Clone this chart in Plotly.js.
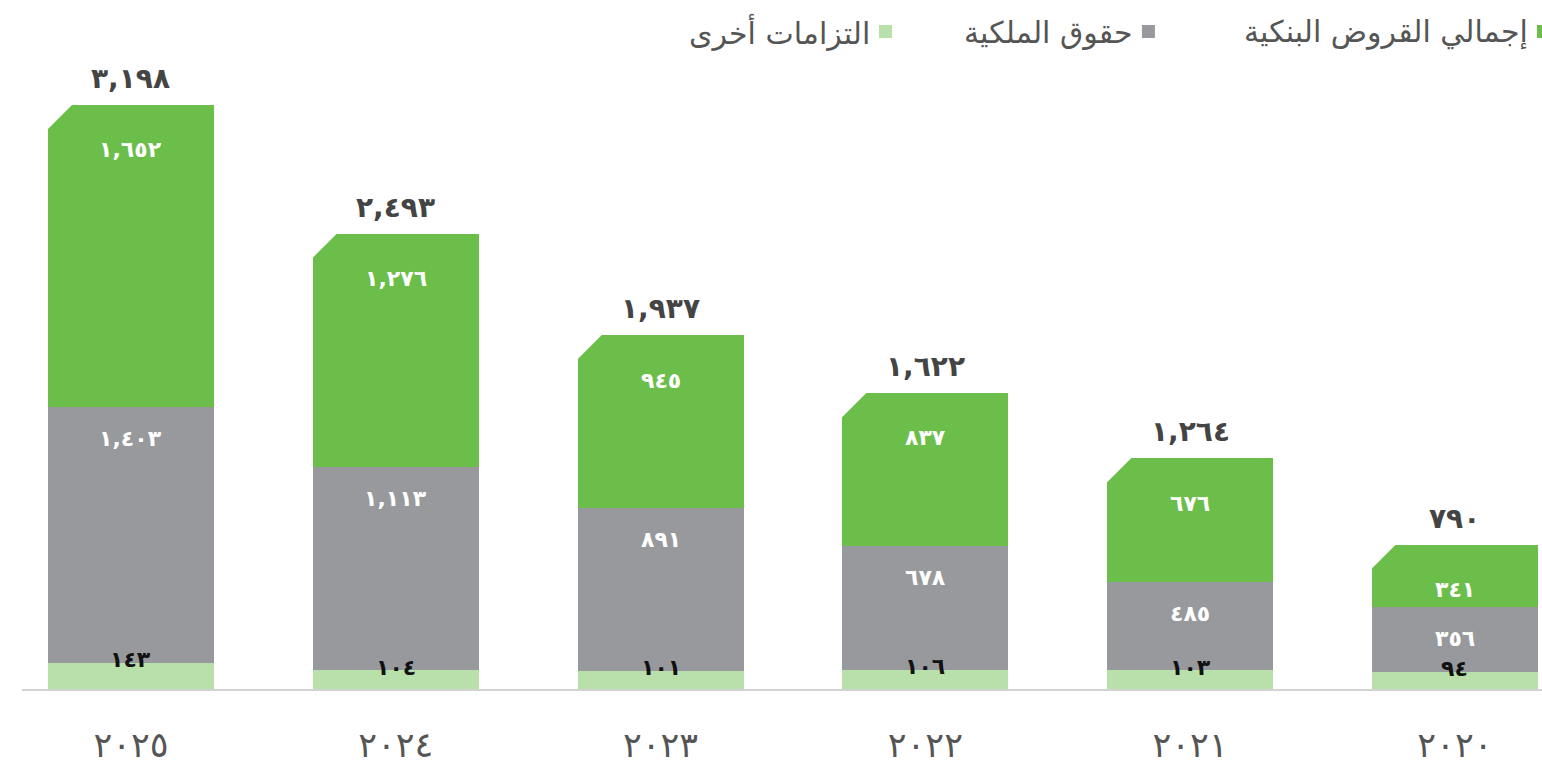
<!DOCTYPE html>
<html>
<head>
<meta charset="utf-8">
<script src="https://cdn.plot.ly/plotly-3.0.1.min.js"></script>
<style>html,body{margin:0;padding:0;background:#fff;}#chart{width:1542px;height:765px;}</style>
</head>
<body>
<div id="chart"></div>
<script>
// Data (years shown left-to-right: 2025 -> 2020)
const years = ["٢٠٢٥", "٢٠٢٤", "٢٠٢٣", "٢٠٢٢", "٢٠٢١", "٢٠٢٠"];
const otherLiabilities = [143, 104, 101, 106, 103, 94];
const equity = [1403, 1113, 891, 678, 485, 356];
const bankLoans = [1652, 1276, 945, 837, 676, 341];
const totals = [3198, 2493, 1937, 1622, 1264, 790];

const otherLabels = ["١٤٣", "١٠٤", "١٠١", "١٠٦", "١٠٣", "٩٤"];
const equityLabels = ["١,٤٠٣", "١,١١٣", "٨٩١", "٦٧٨", "٤٨٥", "٣٥٦"];
const loanLabels = ["١,٦٥٢", "١,٢٧٦", "٩٤٥", "٨٣٧", "٦٧٦", "٣٤١"];
const totalLabels = ["٣,١٩٨", "٢,٤٩٣", "١,٩٣٧", "١,٦٢٢", "١,٢٦٤", "٧٩٠"];

const seriesNames = ["إجمالي القروض البنكية", "حقوق الملكية", "التزامات أخرى"];

const C_GREEN = "#6cbe4a", C_GRAY = "#97999c", C_LIGHT = "#b9dfab";
const FONT = "DejaVu Sans";
const BAR_HALF = 0.3135;

const traces = [
  {type: "bar", x: years, y: otherLiabilities, name: seriesNames[2], marker: {color: C_LIGHT}, hoverinfo: "skip"},
  {type: "bar", x: years, y: equity, name: seriesNames[1], marker: {color: C_GRAY}, hoverinfo: "skip"},
  {type: "bar", x: years, y: bankLoans, name: seriesNames[0], marker: {color: C_GREEN}, hoverinfo: "skip"}
];

const annotations = [];
const shapes = [];
years.forEach((yr, i) => {
  const b1 = otherLiabilities[i];
  const b2 = b1 + equity[i];
  const b3 = b2 + bankLoans[i];
  annotations.push({x: i, y: b3, xref: "x", yref: "y", text: "<b>" + totalLabels[i] + "</b>", showarrow: false,
    yanchor: "bottom", yshift: 8, font: {family: FONT, size: 28, color: "#444444"}});
  annotations.push({x: i, y: b3, xref: "x", yref: "y", text: "<b>" + loanLabels[i] + "</b>", showarrow: false,
    yanchor: "middle", yshift: -45, font: {family: FONT, size: 22, color: "#ffffff"}});
  annotations.push({x: i, y: b2, xref: "x", yref: "y", text: "<b>" + equityLabels[i] + "</b>", showarrow: false,
    yanchor: "middle", yshift: -32, font: {family: FONT, size: 22, color: "#ffffff"}});
  annotations.push({x: i, y: b1, xref: "x", yref: "y", text: "<b>" + otherLabels[i] + "</b>", showarrow: false,
    yanchor: "middle", yshift: 3, font: {family: FONT, size: 22, color: "#111111"}});
  // chamfered top-left corner
  shapes.push({type: "path", xref: "x", yref: "y", xsizemode: "pixel", ysizemode: "pixel",
    xanchor: i - BAR_HALF, yanchor: b3, path: "M-3,3 L27,3 L-3,-27 Z",
    fillcolor: "#ffffff", line: {width: 0}, layer: "above"});
});

// custom RTL legend (text with swatch on the right)
const legendItems = [
  {text: seriesNames[0], color: C_GREEN, right: 0.9921},
  {text: seriesNames[1], color: C_GRAY, right: 0.7322},
  {text: seriesNames[2], color: C_LIGHT, right: 0.5592}
];
legendItems.forEach(it => {
  annotations.push({xref: "paper", yref: "paper", x: it.right, y: 1.0445, xanchor: "right", yanchor: "middle",
    text: it.text, showarrow: false, font: {family: FONT, size: 30, color: "#555555"}});
  shapes.push({type: "rect", xref: "paper", yref: "paper", xsizemode: "pixel", ysizemode: "pixel",
    xanchor: it.right, yanchor: 1.0445, x0: 7, x1: 20, y0: -6, y1: 7,
    fillcolor: it.color, line: {width: 0}});
});

const layout = {
  width: 1542, height: 765,
  margin: {l: 22, r: 0, t: 60, b: 76},
  paper_bgcolor: "#ffffff", plot_bgcolor: "#ffffff",
  barmode: "stack", bargap: 0.373,
  showlegend: false,
  xaxis: {type: "category", range: [-0.4116, 5.329], showline: true, linecolor: "#d3d3d3", linewidth: 2,
    showgrid: false, zeroline: false, ticks: "", ticklen: 0, ticklabelstandoff: 24,
    tickfont: {family: FONT, size: 35, color: "#555555"}},
  yaxis: {range: [0, 3444], visible: false, showgrid: false, zeroline: false},
  annotations: annotations,
  shapes: shapes
};

Plotly.newPlot("chart", traces, layout, {staticPlot: true, displayModeBar: false});
</script>
</body>
</html>
